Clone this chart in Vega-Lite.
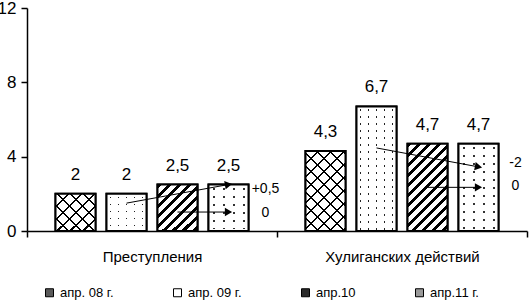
{
  "$schema": "https://vega.github.io/schema/vega-lite/v6.json",
  "width": 500,
  "height": 223,
  "autosize": {"type": "none"},
  "padding": {"left": 27, "top": 8, "right": 3, "bottom": 72},
  "background": "white",
  "config": {
    "view": {"stroke": null},
    "font": "Liberation Sans, Arial, sans-serif",
    "axis": {"domainColor": "black", "tickColor": "black", "labelColor": "black", "grid": false, "domainWidth": 1.5, "tickWidth": 1.5, "labelFont": "Liberation Sans, Arial, sans-serif"},
    "legend": {"labelFont": "Liberation Sans, Arial, sans-serif", "labelColor": "black"}
  },
  "datasets": {
    "bars": [
      {"cat": "Преступления", "series": "апр. 08 г.", "value": 2, "label": "2"},
      {"cat": "Преступления", "series": "апр. 09 г.", "value": 2, "label": "2"},
      {"cat": "Преступления", "series": "апр.10", "value": 2.5, "label": "2,5"},
      {"cat": "Преступления", "series": "апр.11 г.", "value": 2.5, "label": "2,5"},
      {"cat": "Хулиганских действий", "series": "апр. 08 г.", "value": 4.3, "label": "4,3"},
      {"cat": "Хулиганских действий", "series": "апр. 09 г.", "value": 6.7, "label": "6,7"},
      {"cat": "Хулиганских действий", "series": "апр.10", "value": 4.7, "label": "4,7"},
      {"cat": "Хулиганских действий", "series": "апр.11 г.", "value": 4.7, "label": "4,7"}
    ],
    "arrows": [
      {"arrow": "a1", "cat": "Преступления", "series": "апр. 09 г.", "value": 1.5},
      {"arrow": "a1", "cat": "Преступления", "series": "апр.11 г.", "value": 2.5},
      {"arrow": "a2", "cat": "Преступления", "series": "апр.10", "value": 1.02},
      {"arrow": "a2", "cat": "Преступления", "series": "апр.11 г.", "value": 1.02},
      {"arrow": "a3", "cat": "Хулиганских действий", "series": "апр. 09 г.", "value": 4.47},
      {"arrow": "a3", "cat": "Хулиганских действий", "series": "апр.11 г.", "value": 3.45},
      {"arrow": "a4", "cat": "Хулиганских действий", "series": "апр.10", "value": 2.35},
      {"arrow": "a4", "cat": "Хулиганских действий", "series": "апр.11 г.", "value": 2.35}
    ],
    "changes": [
      {"cat": "Преступления", "series": "апр.11 г.", "value": 2.27, "label": "+0,5"},
      {"cat": "Преступления", "series": "апр.11 г.", "value": 0.98, "label": "0"},
      {"cat": "Хулиганских действий", "series": "апр.11 г.", "value": 3.65, "label": "-2"},
      {"cat": "Хулиганских действий", "series": "апр.11 г.", "value": 2.42, "label": "0"}
    ]
  },
  "layer": [
    {
      "data": {"name": "bars"},
      "mark": {"type": "bar", "stroke": "black", "strokeWidth": 2},
      "encoding": {
        "x": {"field": "cat", "type": "nominal", "title": null,
              "scale": {"domain": ["Преступления", "Хулиганских действий"], "paddingInner": 0, "paddingOuter": 0},
              "axis": {"labelAngle": 0, "tickBand": "extent", "tickSize": 6, "labelPadding": 12, "labelFontSize": 15, "labelLimit": 300}},
        "xOffset": {"field": "series", "type": "nominal",
                    "scale": {"domain": ["апр. 08 г.", "апр. 09 г.", "апр.10", "апр.11 г."], "paddingInner": 0.2157, "paddingOuter": 0.559}},
        "y": {"field": "value", "type": "quantitative", "title": null,
              "scale": {"domain": [0, 12], "nice": false},
              "axis": {"values": [0, 4, 8, 12], "tickSize": 6, "labelPadding": 5, "labelFontSize": 17}},
        "color": {"field": "series", "type": "nominal",
                  "scale": {"domain": ["апр. 08 г.", "апр. 09 г.", "апр.10", "апр.11 г."], "range": ["#5a5a5a", "#ffffff", "#2a2a2a", "#9a9a9a"]},
                  "legend": {"title": null, "orient": "none", "legendX": 16, "legendY": 278, "direction": "horizontal", "columns": 4, "columnPadding": 57, "symbolType": "square", "symbolSize": 64, "symbolStrokeColor": "black", "symbolStrokeWidth": 1, "symbolOpacity": 1, "labelFontSize": 13, "labelOffset": 4, "padding": 0}}
      }
    },
    {
      "data": {"name": "bars"},
      "mark": {"type": "bar"},
      "encoding": {
        "x": {"field": "cat", "type": "nominal"},
        "xOffset": {"field": "series", "type": "nominal"},
        "y": {"field": "value", "type": "quantitative"},
        "fill": {
          "condition": [
            {"test": "datum.series === 'апр. 08 г.' && datum.cat === 'Преступления'", "value": {"gradient": "linear", "x1": 0, "y1": 0, "x2": 1.0349, "y2": 0.9625, "stops": [
              {"offset": 0, "color": "#ffffff"}, {"offset": 0.1514, "color": "#ffffff"}, {"offset": 0.1514, "color": "#000000"}, {"offset": 0.1854, "color": "#000000"}, {"offset": 0.1854, "color": "#ffffff"},
              {"offset": 0.3198, "color": "#ffffff"}, {"offset": 0.3198, "color": "#000000"}, {"offset": 0.3538, "color": "#000000"}, {"offset": 0.3538, "color": "#ffffff"},
              {"offset": 0.4882, "color": "#ffffff"}, {"offset": 0.4882, "color": "#000000"}, {"offset": 0.5222, "color": "#000000"}, {"offset": 0.5222, "color": "#ffffff"},
              {"offset": 0.6566, "color": "#ffffff"}, {"offset": 0.6566, "color": "#000000"}, {"offset": 0.6906, "color": "#000000"}, {"offset": 0.6906, "color": "#ffffff"},
              {"offset": 0.8250, "color": "#ffffff"}, {"offset": 0.8250, "color": "#000000"}, {"offset": 0.8590, "color": "#000000"}, {"offset": 0.8590, "color": "#ffffff"},
              {"offset": 1, "color": "#ffffff"}]}},
            {"test": "datum.series === 'апр. 08 г.'", "value": {"gradient": "linear", "x1": 0, "y1": 0, "x2": 0.6007, "y2": 1.1999, "stops": [
              {"offset": 0, "color": "#ffffff"}, {"offset": 0.0976, "color": "#ffffff"}, {"offset": 0.0976, "color": "#000000"}, {"offset": 0.1192, "color": "#000000"}, {"offset": 0.1192, "color": "#ffffff"},
              {"offset": 0.2060, "color": "#ffffff"}, {"offset": 0.2060, "color": "#000000"}, {"offset": 0.2276, "color": "#000000"}, {"offset": 0.2276, "color": "#ffffff"},
              {"offset": 0.3145, "color": "#ffffff"}, {"offset": 0.3145, "color": "#000000"}, {"offset": 0.3361, "color": "#000000"}, {"offset": 0.3361, "color": "#ffffff"},
              {"offset": 0.4229, "color": "#ffffff"}, {"offset": 0.4229, "color": "#000000"}, {"offset": 0.4445, "color": "#000000"}, {"offset": 0.4445, "color": "#ffffff"},
              {"offset": 0.5313, "color": "#ffffff"}, {"offset": 0.5313, "color": "#000000"}, {"offset": 0.5529, "color": "#000000"}, {"offset": 0.5529, "color": "#ffffff"},
              {"offset": 0.6397, "color": "#ffffff"}, {"offset": 0.6397, "color": "#000000"}, {"offset": 0.6613, "color": "#000000"}, {"offset": 0.6613, "color": "#ffffff"},
              {"offset": 0.7482, "color": "#ffffff"}, {"offset": 0.7482, "color": "#000000"}, {"offset": 0.7698, "color": "#000000"}, {"offset": 0.7698, "color": "#ffffff"},
              {"offset": 0.8566, "color": "#ffffff"}, {"offset": 0.8566, "color": "#000000"}, {"offset": 0.8782, "color": "#000000"}, {"offset": 0.8782, "color": "#ffffff"},
              {"offset": 0.9650, "color": "#ffffff"}, {"offset": 0.9650, "color": "#000000"}, {"offset": 0.9866, "color": "#000000"}, {"offset": 0.9866, "color": "#ffffff"},
              {"offset": 1, "color": "#ffffff"}]}},
            {"test": "datum.series === 'апр. 09 г.'", "value": {"gradient": "linear", "x1": 0, "y1": 0, "x2": 1, "y2": 0, "stops": [
              {"offset": 0, "color": "#ffffff"}, {"offset": 0.08, "color": "#ffffff"}, {"offset": 0.08, "color": "#222222"}, {"offset": 0.12, "color": "#222222"}, {"offset": 0.12, "color": "#ffffff"},
              {"offset": 0.28, "color": "#ffffff"}, {"offset": 0.28, "color": "#222222"}, {"offset": 0.32, "color": "#222222"}, {"offset": 0.32, "color": "#ffffff"},
              {"offset": 0.48, "color": "#ffffff"}, {"offset": 0.48, "color": "#222222"}, {"offset": 0.52, "color": "#222222"}, {"offset": 0.52, "color": "#ffffff"},
              {"offset": 0.68, "color": "#ffffff"}, {"offset": 0.68, "color": "#222222"}, {"offset": 0.72, "color": "#222222"}, {"offset": 0.72, "color": "#ffffff"},
              {"offset": 0.88, "color": "#ffffff"}, {"offset": 0.88, "color": "#222222"}, {"offset": 0.92, "color": "#222222"}, {"offset": 0.92, "color": "#ffffff"},
              {"offset": 1, "color": "#ffffff"}]}},
            {"test": "datum.series === 'апр.10' && datum.cat === 'Преступления'", "value": {"gradient": "linear", "x1": 0, "y1": 0, "x2": 0.9197, "y2": 1.0691, "stops": [
              {"offset": 0, "color": "#000000"}, {"offset": 0.052, "color": "#000000"}, {"offset": 0.052, "color": "#ffffff"},
              {"offset": 0.1156, "color": "#ffffff"}, {"offset": 0.1156, "color": "#000000"}, {"offset": 0.1676, "color": "#000000"}, {"offset": 0.1676, "color": "#ffffff"},
              {"offset": 0.2312, "color": "#ffffff"}, {"offset": 0.2312, "color": "#000000"}, {"offset": 0.2832, "color": "#000000"}, {"offset": 0.2832, "color": "#ffffff"},
              {"offset": 0.3468, "color": "#ffffff"}, {"offset": 0.3468, "color": "#000000"}, {"offset": 0.3988, "color": "#000000"}, {"offset": 0.3988, "color": "#ffffff"},
              {"offset": 0.4624, "color": "#ffffff"}, {"offset": 0.4624, "color": "#000000"}, {"offset": 0.5144, "color": "#000000"}, {"offset": 0.5144, "color": "#ffffff"},
              {"offset": 0.5780, "color": "#ffffff"}, {"offset": 0.5780, "color": "#000000"}, {"offset": 0.6300, "color": "#000000"}, {"offset": 0.6300, "color": "#ffffff"},
              {"offset": 0.6936, "color": "#ffffff"}, {"offset": 0.6936, "color": "#000000"}, {"offset": 0.7456, "color": "#000000"}, {"offset": 0.7456, "color": "#ffffff"},
              {"offset": 0.8092, "color": "#ffffff"}, {"offset": 0.8092, "color": "#000000"}, {"offset": 0.8612, "color": "#000000"}, {"offset": 0.8612, "color": "#ffffff"},
              {"offset": 0.9249, "color": "#ffffff"}, {"offset": 0.9249, "color": "#000000"}, {"offset": 0.9769, "color": "#000000"}, {"offset": 0.9769, "color": "#ffffff"},
              {"offset": 1, "color": "#ffffff"}]}},
            {"test": "datum.series === 'апр.10'", "value": {"gradient": "linear", "x1": 0, "y1": 0, "x2": 0.5522, "y2": 1.2052, "stops": [
              {"offset": 0, "color": "#000000"}, {"offset": 0.0354, "color": "#000000"}, {"offset": 0.0354, "color": "#ffffff"},
              {"offset": 0.0786, "color": "#ffffff"}, {"offset": 0.0786, "color": "#000000"}, {"offset": 0.1139, "color": "#000000"}, {"offset": 0.1139, "color": "#ffffff"},
              {"offset": 0.1571, "color": "#ffffff"}, {"offset": 0.1571, "color": "#000000"}, {"offset": 0.1925, "color": "#000000"}, {"offset": 0.1925, "color": "#ffffff"},
              {"offset": 0.2357, "color": "#ffffff"}, {"offset": 0.2357, "color": "#000000"}, {"offset": 0.2710, "color": "#000000"}, {"offset": 0.2710, "color": "#ffffff"},
              {"offset": 0.3142, "color": "#ffffff"}, {"offset": 0.3142, "color": "#000000"}, {"offset": 0.3496, "color": "#000000"}, {"offset": 0.3496, "color": "#ffffff"},
              {"offset": 0.3928, "color": "#ffffff"}, {"offset": 0.3928, "color": "#000000"}, {"offset": 0.4281, "color": "#000000"}, {"offset": 0.4281, "color": "#ffffff"},
              {"offset": 0.4713, "color": "#ffffff"}, {"offset": 0.4713, "color": "#000000"}, {"offset": 0.5067, "color": "#000000"}, {"offset": 0.5067, "color": "#ffffff"},
              {"offset": 0.5499, "color": "#ffffff"}, {"offset": 0.5499, "color": "#000000"}, {"offset": 0.5852, "color": "#000000"}, {"offset": 0.5852, "color": "#ffffff"},
              {"offset": 0.6284, "color": "#ffffff"}, {"offset": 0.6284, "color": "#000000"}, {"offset": 0.6638, "color": "#000000"}, {"offset": 0.6638, "color": "#ffffff"},
              {"offset": 0.7070, "color": "#ffffff"}, {"offset": 0.7070, "color": "#000000"}, {"offset": 0.7423, "color": "#000000"}, {"offset": 0.7423, "color": "#ffffff"},
              {"offset": 0.7855, "color": "#ffffff"}, {"offset": 0.7855, "color": "#000000"}, {"offset": 0.8209, "color": "#000000"}, {"offset": 0.8209, "color": "#ffffff"},
              {"offset": 0.8641, "color": "#ffffff"}, {"offset": 0.8641, "color": "#000000"}, {"offset": 0.8994, "color": "#000000"}, {"offset": 0.8994, "color": "#ffffff"},
              {"offset": 0.9426, "color": "#ffffff"}, {"offset": 0.9426, "color": "#000000"}, {"offset": 0.9780, "color": "#000000"}, {"offset": 0.9780, "color": "#ffffff"},
              {"offset": 1, "color": "#ffffff"}]}}
          ],
          "value": {"gradient": "linear", "x1": 0, "y1": 0, "x2": 1, "y2": 0, "stops": [
            {"offset": 0, "color": "#ffffff"}, {"offset": 0.125, "color": "#ffffff"}, {"offset": 0.125, "color": "#333333"}, {"offset": 0.175, "color": "#333333"}, {"offset": 0.175, "color": "#ffffff"},
            {"offset": 0.375, "color": "#ffffff"}, {"offset": 0.375, "color": "#333333"}, {"offset": 0.425, "color": "#333333"}, {"offset": 0.425, "color": "#ffffff"},
            {"offset": 0.625, "color": "#ffffff"}, {"offset": 0.625, "color": "#333333"}, {"offset": 0.675, "color": "#333333"}, {"offset": 0.675, "color": "#ffffff"},
            {"offset": 0.875, "color": "#ffffff"}, {"offset": 0.875, "color": "#333333"}, {"offset": 0.925, "color": "#333333"}, {"offset": 0.925, "color": "#ffffff"},
            {"offset": 1, "color": "#ffffff"}]}
        }
      }
    },
    {
      "data": {"name": "bars"},
      "transform": [{"filter": "datum.series !== 'апр.10'"}],
      "mark": {"type": "bar"},
      "encoding": {
        "x": {"field": "cat", "type": "nominal"},
        "xOffset": {"field": "series", "type": "nominal"},
        "y": {"field": "value", "type": "quantitative"},
        "fill": {
          "condition": [
            {"test": "datum.series === 'апр. 08 г.' && datum.cat === 'Преступления'", "value": {"gradient": "linear", "x1": 0, "y1": 1, "x2": 1.0349, "y2": 0.0375, "stops": [
              {"offset": 0, "color": "rgba(255,255,255,0)"}, {"offset": 0.1514, "color": "rgba(255,255,255,0)"}, {"offset": 0.1514, "color": "#000000"}, {"offset": 0.1854, "color": "#000000"}, {"offset": 0.1854, "color": "rgba(255,255,255,0)"},
              {"offset": 0.3198, "color": "rgba(255,255,255,0)"}, {"offset": 0.3198, "color": "#000000"}, {"offset": 0.3538, "color": "#000000"}, {"offset": 0.3538, "color": "rgba(255,255,255,0)"},
              {"offset": 0.4882, "color": "rgba(255,255,255,0)"}, {"offset": 0.4882, "color": "#000000"}, {"offset": 0.5222, "color": "#000000"}, {"offset": 0.5222, "color": "rgba(255,255,255,0)"},
              {"offset": 0.6566, "color": "rgba(255,255,255,0)"}, {"offset": 0.6566, "color": "#000000"}, {"offset": 0.6906, "color": "#000000"}, {"offset": 0.6906, "color": "rgba(255,255,255,0)"},
              {"offset": 0.8250, "color": "rgba(255,255,255,0)"}, {"offset": 0.8250, "color": "#000000"}, {"offset": 0.8590, "color": "#000000"}, {"offset": 0.8590, "color": "rgba(255,255,255,0)"},
              {"offset": 1, "color": "rgba(255,255,255,0)"}]}},
            {"test": "datum.series === 'апр. 08 г.'", "value": {"gradient": "linear", "x1": 0, "y1": 1, "x2": 0.6007, "y2": -0.1999, "stops": [
              {"offset": 0, "color": "rgba(255,255,255,0)"}, {"offset": 0.0976, "color": "rgba(255,255,255,0)"}, {"offset": 0.0976, "color": "#000000"}, {"offset": 0.1192, "color": "#000000"}, {"offset": 0.1192, "color": "rgba(255,255,255,0)"},
              {"offset": 0.2060, "color": "rgba(255,255,255,0)"}, {"offset": 0.2060, "color": "#000000"}, {"offset": 0.2276, "color": "#000000"}, {"offset": 0.2276, "color": "rgba(255,255,255,0)"},
              {"offset": 0.3145, "color": "rgba(255,255,255,0)"}, {"offset": 0.3145, "color": "#000000"}, {"offset": 0.3361, "color": "#000000"}, {"offset": 0.3361, "color": "rgba(255,255,255,0)"},
              {"offset": 0.4229, "color": "rgba(255,255,255,0)"}, {"offset": 0.4229, "color": "#000000"}, {"offset": 0.4445, "color": "#000000"}, {"offset": 0.4445, "color": "rgba(255,255,255,0)"},
              {"offset": 0.5313, "color": "rgba(255,255,255,0)"}, {"offset": 0.5313, "color": "#000000"}, {"offset": 0.5529, "color": "#000000"}, {"offset": 0.5529, "color": "rgba(255,255,255,0)"},
              {"offset": 0.6397, "color": "rgba(255,255,255,0)"}, {"offset": 0.6397, "color": "#000000"}, {"offset": 0.6613, "color": "#000000"}, {"offset": 0.6613, "color": "rgba(255,255,255,0)"},
              {"offset": 0.7482, "color": "rgba(255,255,255,0)"}, {"offset": 0.7482, "color": "#000000"}, {"offset": 0.7698, "color": "#000000"}, {"offset": 0.7698, "color": "rgba(255,255,255,0)"},
              {"offset": 0.8566, "color": "rgba(255,255,255,0)"}, {"offset": 0.8566, "color": "#000000"}, {"offset": 0.8782, "color": "#000000"}, {"offset": 0.8782, "color": "rgba(255,255,255,0)"},
              {"offset": 0.9650, "color": "rgba(255,255,255,0)"}, {"offset": 0.9650, "color": "#000000"}, {"offset": 0.9866, "color": "#000000"}, {"offset": 0.9866, "color": "rgba(255,255,255,0)"},
              {"offset": 1, "color": "rgba(255,255,255,0)"}]}},
            {"test": "datum.series === 'апр. 09 г.' && datum.cat === 'Преступления'", "value": {"gradient": "linear", "x1": 0, "y1": 0, "x2": 0, "y2": 1, "stops": [
              {"offset": 0, "color": "#ffffff"}, {"offset": 0.0726, "color": "#ffffff"}, {"offset": 0.0726, "color": "rgba(255,255,255,0)"}, {"offset": 0.1156, "color": "rgba(255,255,255,0)"}, {"offset": 0.1156, "color": "#ffffff"},
              {"offset": 0.2608, "color": "#ffffff"}, {"offset": 0.2608, "color": "rgba(255,255,255,0)"}, {"offset": 0.3038, "color": "rgba(255,255,255,0)"}, {"offset": 0.3038, "color": "#ffffff"},
              {"offset": 0.4489, "color": "#ffffff"}, {"offset": 0.4489, "color": "rgba(255,255,255,0)"}, {"offset": 0.4919, "color": "rgba(255,255,255,0)"}, {"offset": 0.4919, "color": "#ffffff"},
              {"offset": 0.6371, "color": "#ffffff"}, {"offset": 0.6371, "color": "rgba(255,255,255,0)"}, {"offset": 0.6801, "color": "rgba(255,255,255,0)"}, {"offset": 0.6801, "color": "#ffffff"},
              {"offset": 0.8253, "color": "#ffffff"}, {"offset": 0.8253, "color": "rgba(255,255,255,0)"}, {"offset": 0.8683, "color": "rgba(255,255,255,0)"}, {"offset": 0.8683, "color": "#ffffff"},
              {"offset": 1, "color": "#ffffff"}]}},
            {"test": "datum.series === 'апр. 09 г.'", "value": {"gradient": "linear", "x1": 0, "y1": 0, "x2": 0, "y2": 1, "stops": [
              {"offset": 0, "color": "#ffffff"},
              {"offset": 0.0217, "color": "#ffffff"}, {"offset": 0.0217, "color": "rgba(255,255,255,0)"}, {"offset": 0.0345, "color": "rgba(255,255,255,0)"}, {"offset": 0.0345, "color": "#ffffff"},
              {"offset": 0.0779, "color": "#ffffff"}, {"offset": 0.0779, "color": "rgba(255,255,255,0)"}, {"offset": 0.0907, "color": "rgba(255,255,255,0)"}, {"offset": 0.0907, "color": "#ffffff"},
              {"offset": 0.1342, "color": "#ffffff"}, {"offset": 0.1342, "color": "rgba(255,255,255,0)"}, {"offset": 0.1470, "color": "rgba(255,255,255,0)"}, {"offset": 0.1470, "color": "#ffffff"},
              {"offset": 0.1904, "color": "#ffffff"}, {"offset": 0.1904, "color": "rgba(255,255,255,0)"}, {"offset": 0.2032, "color": "rgba(255,255,255,0)"}, {"offset": 0.2032, "color": "#ffffff"},
              {"offset": 0.2466, "color": "#ffffff"}, {"offset": 0.2466, "color": "rgba(255,255,255,0)"}, {"offset": 0.2594, "color": "rgba(255,255,255,0)"}, {"offset": 0.2594, "color": "#ffffff"},
              {"offset": 0.3028, "color": "#ffffff"}, {"offset": 0.3028, "color": "rgba(255,255,255,0)"}, {"offset": 0.3156, "color": "rgba(255,255,255,0)"}, {"offset": 0.3156, "color": "#ffffff"},
              {"offset": 0.3591, "color": "#ffffff"}, {"offset": 0.3591, "color": "rgba(255,255,255,0)"}, {"offset": 0.3719, "color": "rgba(255,255,255,0)"}, {"offset": 0.3719, "color": "#ffffff"},
              {"offset": 0.4153, "color": "#ffffff"}, {"offset": 0.4153, "color": "rgba(255,255,255,0)"}, {"offset": 0.4281, "color": "rgba(255,255,255,0)"}, {"offset": 0.4281, "color": "#ffffff"},
              {"offset": 0.4715, "color": "#ffffff"}, {"offset": 0.4715, "color": "rgba(255,255,255,0)"}, {"offset": 0.4843, "color": "rgba(255,255,255,0)"}, {"offset": 0.4843, "color": "#ffffff"},
              {"offset": 0.5277, "color": "#ffffff"}, {"offset": 0.5277, "color": "rgba(255,255,255,0)"}, {"offset": 0.5405, "color": "rgba(255,255,255,0)"}, {"offset": 0.5405, "color": "#ffffff"},
              {"offset": 0.5840, "color": "#ffffff"}, {"offset": 0.5840, "color": "rgba(255,255,255,0)"}, {"offset": 0.5968, "color": "rgba(255,255,255,0)"}, {"offset": 0.5968, "color": "#ffffff"},
              {"offset": 0.6402, "color": "#ffffff"}, {"offset": 0.6402, "color": "rgba(255,255,255,0)"}, {"offset": 0.6530, "color": "rgba(255,255,255,0)"}, {"offset": 0.6530, "color": "#ffffff"},
              {"offset": 0.6964, "color": "#ffffff"}, {"offset": 0.6964, "color": "rgba(255,255,255,0)"}, {"offset": 0.7092, "color": "rgba(255,255,255,0)"}, {"offset": 0.7092, "color": "#ffffff"},
              {"offset": 0.7526, "color": "#ffffff"}, {"offset": 0.7526, "color": "rgba(255,255,255,0)"}, {"offset": 0.7654, "color": "rgba(255,255,255,0)"}, {"offset": 0.7654, "color": "#ffffff"},
              {"offset": 0.8089, "color": "#ffffff"}, {"offset": 0.8089, "color": "rgba(255,255,255,0)"}, {"offset": 0.8217, "color": "rgba(255,255,255,0)"}, {"offset": 0.8217, "color": "#ffffff"},
              {"offset": 0.8651, "color": "#ffffff"}, {"offset": 0.8651, "color": "rgba(255,255,255,0)"}, {"offset": 0.8779, "color": "rgba(255,255,255,0)"}, {"offset": 0.8779, "color": "#ffffff"},
              {"offset": 0.9213, "color": "#ffffff"}, {"offset": 0.9213, "color": "rgba(255,255,255,0)"}, {"offset": 0.9341, "color": "rgba(255,255,255,0)"}, {"offset": 0.9341, "color": "#ffffff"},
              {"offset": 0.9775, "color": "#ffffff"}, {"offset": 0.9775, "color": "rgba(255,255,255,0)"}, {"offset": 0.9903, "color": "rgba(255,255,255,0)"}, {"offset": 0.9903, "color": "#ffffff"},
              {"offset": 1, "color": "#ffffff"}]}},
            {"test": "datum.series === 'апр.11 г.' && datum.cat === 'Преступления'", "value": {"gradient": "linear", "x1": 0, "y1": 0, "x2": 0, "y2": 1, "stops": [
              {"offset": 0, "color": "#ffffff"},
              {"offset": 0.0645, "color": "#ffffff"}, {"offset": 0.0645, "color": "rgba(255,255,255,0)"}, {"offset": 0.1075, "color": "rgba(255,255,255,0)"}, {"offset": 0.1075, "color": "#ffffff"},
              {"offset": 0.2366, "color": "#ffffff"}, {"offset": 0.2366, "color": "rgba(255,255,255,0)"}, {"offset": 0.2796, "color": "rgba(255,255,255,0)"}, {"offset": 0.2796, "color": "#ffffff"},
              {"offset": 0.4086, "color": "#ffffff"}, {"offset": 0.4086, "color": "rgba(255,255,255,0)"}, {"offset": 0.4516, "color": "rgba(255,255,255,0)"}, {"offset": 0.4516, "color": "#ffffff"},
              {"offset": 0.5807, "color": "#ffffff"}, {"offset": 0.5807, "color": "rgba(255,255,255,0)"}, {"offset": 0.6237, "color": "rgba(255,255,255,0)"}, {"offset": 0.6237, "color": "#ffffff"},
              {"offset": 0.7527, "color": "#ffffff"}, {"offset": 0.7527, "color": "rgba(255,255,255,0)"}, {"offset": 0.7957, "color": "rgba(255,255,255,0)"}, {"offset": 0.7957, "color": "#ffffff"},
              {"offset": 0.9247, "color": "#ffffff"}, {"offset": 0.9247, "color": "rgba(255,255,255,0)"}, {"offset": 0.9677, "color": "rgba(255,255,255,0)"}, {"offset": 0.9677, "color": "#ffffff"},
              {"offset": 1, "color": "#ffffff"}]}}
          ],
          "value": {"gradient": "linear", "x1": 0, "y1": 0, "x2": 0, "y2": 1, "stops": [
            {"offset": 0, "color": "#ffffff"},
            {"offset": 0.0344, "color": "#ffffff"}, {"offset": 0.0344, "color": "rgba(255,255,255,0)"}, {"offset": 0.0573, "color": "rgba(255,255,255,0)"}, {"offset": 0.0573, "color": "#ffffff"},
            {"offset": 0.1260, "color": "#ffffff"}, {"offset": 0.1260, "color": "rgba(255,255,255,0)"}, {"offset": 0.1489, "color": "rgba(255,255,255,0)"}, {"offset": 0.1489, "color": "#ffffff"},
            {"offset": 0.2177, "color": "#ffffff"}, {"offset": 0.2177, "color": "rgba(255,255,255,0)"}, {"offset": 0.2406, "color": "rgba(255,255,255,0)"}, {"offset": 0.2406, "color": "#ffffff"},
            {"offset": 0.3093, "color": "#ffffff"}, {"offset": 0.3093, "color": "rgba(255,255,255,0)"}, {"offset": 0.3322, "color": "rgba(255,255,255,0)"}, {"offset": 0.3322, "color": "#ffffff"},
            {"offset": 0.4009, "color": "#ffffff"}, {"offset": 0.4009, "color": "rgba(255,255,255,0)"}, {"offset": 0.4239, "color": "rgba(255,255,255,0)"}, {"offset": 0.4239, "color": "#ffffff"},
            {"offset": 0.4926, "color": "#ffffff"}, {"offset": 0.4926, "color": "rgba(255,255,255,0)"}, {"offset": 0.5155, "color": "rgba(255,255,255,0)"}, {"offset": 0.5155, "color": "#ffffff"},
            {"offset": 0.5842, "color": "#ffffff"}, {"offset": 0.5842, "color": "rgba(255,255,255,0)"}, {"offset": 0.6071, "color": "rgba(255,255,255,0)"}, {"offset": 0.6071, "color": "#ffffff"},
            {"offset": 0.6758, "color": "#ffffff"}, {"offset": 0.6758, "color": "rgba(255,255,255,0)"}, {"offset": 0.6987, "color": "rgba(255,255,255,0)"}, {"offset": 0.6987, "color": "#ffffff"},
            {"offset": 0.7675, "color": "#ffffff"}, {"offset": 0.7675, "color": "rgba(255,255,255,0)"}, {"offset": 0.7904, "color": "rgba(255,255,255,0)"}, {"offset": 0.7904, "color": "#ffffff"},
            {"offset": 0.8591, "color": "#ffffff"}, {"offset": 0.8591, "color": "rgba(255,255,255,0)"}, {"offset": 0.8820, "color": "rgba(255,255,255,0)"}, {"offset": 0.8820, "color": "#ffffff"},
            {"offset": 0.9507, "color": "#ffffff"}, {"offset": 0.9507, "color": "rgba(255,255,255,0)"}, {"offset": 0.9737, "color": "rgba(255,255,255,0)"}, {"offset": 0.9737, "color": "#ffffff"},
            {"offset": 1, "color": "#ffffff"}]}
        }
      }
    },
    {
      "data": {"name": "bars"},
      "mark": {"type": "bar", "fill": "white", "fillOpacity": 0, "stroke": "black", "strokeWidth": 2},
      "encoding": {
        "x": {"field": "cat", "type": "nominal"},
        "xOffset": {"field": "series", "type": "nominal"},
        "y": {"field": "value", "type": "quantitative"}
      }
    },
    {
      "data": {"name": "bars"},
      "mark": {"type": "text", "baseline": "middle", "dy": -19, "fontSize": 17, "color": "black"},
      "encoding": {
        "x": {"field": "cat", "type": "nominal"},
        "xOffset": {"field": "series", "type": "nominal"},
        "y": {"field": "value", "type": "quantitative"},
        "text": {"field": "label"}
      }
    },
    {
      "data": {"name": "arrows"},
      "mark": {"type": "line", "color": "black", "strokeWidth": 1},
      "encoding": {
        "x": {"field": "cat", "type": "nominal"},
        "xOffset": {"field": "series", "type": "nominal"},
        "y": {"field": "value", "type": "quantitative"},
        "detail": {"field": "arrow"}
      }
    },
    {
      "data": {"name": "arrows"},
      "transform": [{"filter": "datum.series === 'апр.11 г.'"}],
      "mark": {"type": "point", "shape": "triangle-right", "filled": true, "color": "black", "opacity": 1, "size": 70},
      "encoding": {
        "x": {"field": "cat", "type": "nominal"},
        "xOffset": {"field": "series", "type": "nominal"},
        "y": {"field": "value", "type": "quantitative"},
        "angle": {"condition": [{"test": "datum.arrow === 'a1'", "value": 349.7}, {"test": "datum.arrow === 'a3'", "value": 10.5}], "value": 0}
      }
    },
    {
      "data": {"name": "changes"},
      "mark": {"type": "text", "align": "center", "baseline": "middle", "dx": 37, "fontSize": 14, "color": "black"},
      "encoding": {
        "x": {"field": "cat", "type": "nominal"},
        "xOffset": {"field": "series", "type": "nominal"},
        "y": {"field": "value", "type": "quantitative"},
        "text": {"field": "label"}
      }
    }
  ]
}
